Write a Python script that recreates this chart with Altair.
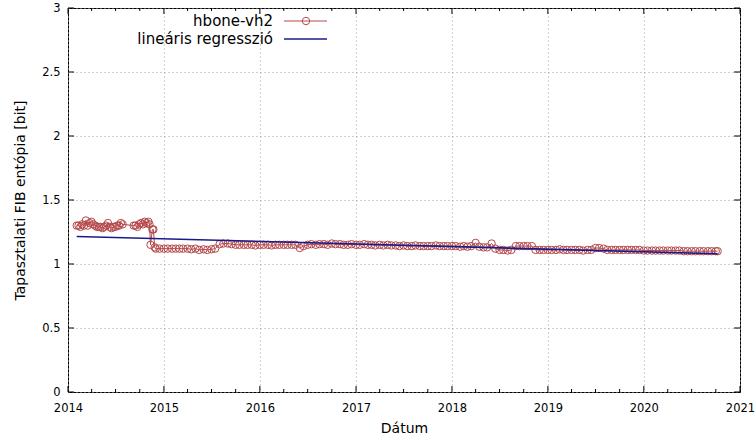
import altair as alt
import pandas as pd

# --- measured series: hbone-vh2 ---
dates = [
    "2014-02-03", "2014-02-10", "2014-02-17", "2014-02-24", "2014-03-03", "2014-03-10",
    "2014-03-17", "2014-03-24", "2014-03-31", "2014-04-07", "2014-04-14", "2014-04-21",
    "2014-04-28", "2014-05-05", "2014-05-12", "2014-05-19", "2014-05-26", "2014-06-02",
    "2014-06-09", "2014-06-16", "2014-06-23", "2014-06-30", "2014-07-07", "2014-07-14",
    "2014-07-21", "2014-07-28", "2014-09-08", "2014-09-15", "2014-09-22", "2014-09-29",
    "2014-10-06", "2014-10-13", "2014-10-20", "2014-10-27", "2014-11-03", "2014-11-07",
    "2014-11-11", "2014-11-18", "2014-11-22", "2014-11-27", "2014-12-01", "2014-12-15",
    "2015-01-01", "2015-01-15", "2015-02-01", "2015-02-15", "2015-03-01", "2015-03-15",
    "2015-04-01", "2015-04-15", "2015-05-01", "2015-05-15", "2015-06-01", "2015-06-15",
    "2015-07-01", "2015-07-15", "2015-08-01", "2015-08-15", "2015-09-01", "2015-09-15",
    "2015-10-01", "2015-10-15", "2015-11-01", "2015-11-15", "2015-12-01", "2015-12-15",
    "2016-01-01", "2016-01-15", "2016-02-01", "2016-02-15", "2016-03-01", "2016-03-15",
    "2016-04-01", "2016-04-15", "2016-05-01", "2016-05-15", "2016-06-01", "2016-06-15",
    "2016-07-01", "2016-07-15", "2016-08-01", "2016-08-15", "2016-09-01", "2016-09-15",
    "2016-10-01", "2016-10-15", "2016-11-01", "2016-11-15", "2016-12-01", "2016-12-15",
    "2017-01-01", "2017-01-15", "2017-02-01", "2017-02-15", "2017-03-01", "2017-03-15",
    "2017-04-01", "2017-04-15", "2017-05-01", "2017-05-15", "2017-06-01", "2017-06-15",
    "2017-07-01", "2017-07-15", "2017-08-01", "2017-08-15", "2017-09-01", "2017-09-15",
    "2017-10-01", "2017-10-15", "2017-11-01", "2017-11-15", "2017-12-01", "2017-12-15",
    "2018-01-01", "2018-01-15", "2018-02-01", "2018-02-15", "2018-03-01", "2018-03-15",
    "2018-04-01", "2018-04-15", "2018-05-01", "2018-05-15", "2018-06-01", "2018-06-15",
    "2018-07-01", "2018-07-15", "2018-08-01", "2018-08-15", "2018-09-01", "2018-09-15",
    "2018-10-01", "2018-10-15", "2018-11-01", "2018-11-15", "2018-12-01", "2018-12-15",
    "2019-01-01", "2019-01-15", "2019-02-01", "2019-02-15", "2019-03-01", "2019-03-15",
    "2019-04-01", "2019-04-15", "2019-05-01", "2019-05-15", "2019-06-01", "2019-06-15",
    "2019-07-01", "2019-07-15", "2019-08-01", "2019-08-15", "2019-09-01", "2019-09-15",
    "2019-10-01", "2019-10-15", "2019-11-01", "2019-11-15", "2019-12-01", "2019-12-15",
    "2020-01-01", "2020-01-15", "2020-02-01", "2020-02-15", "2020-03-01", "2020-03-15",
    "2020-04-01", "2020-04-15", "2020-05-01", "2020-05-15", "2020-06-01", "2020-06-15",
    "2020-07-01", "2020-07-15", "2020-08-01", "2020-08-15", "2020-09-01", "2020-09-15",
    "2020-10-01", "2020-10-08",
]
values = [
    1.30, 1.30, 1.29, 1.31, 1.30, 1.34,
    1.30, 1.32, 1.33, 1.31, 1.30, 1.29,
    1.29, 1.29, 1.28, 1.29, 1.30, 1.32,
    1.29, 1.28, 1.29, 1.29, 1.30, 1.30,
    1.32, 1.31, 1.30, 1.30, 1.29, 1.31,
    1.32, 1.31, 1.33, 1.32, 1.33, 1.31,
    1.15, 1.27, 1.27, 1.13, 1.12, 1.12,
    1.12, 1.12, 1.12, 1.12, 1.12, 1.12,
    1.12, 1.115, 1.12, 1.11, 1.115, 1.11,
    1.115, 1.12, 1.155, 1.16, 1.16, 1.155,
    1.15, 1.15, 1.15, 1.15, 1.15, 1.145,
    1.15, 1.15, 1.15, 1.145, 1.15, 1.15,
    1.15, 1.15, 1.15, 1.15, 1.125, 1.14,
    1.15, 1.155, 1.15, 1.155, 1.155, 1.15,
    1.16, 1.155, 1.155, 1.15, 1.15, 1.155,
    1.15, 1.15, 1.155, 1.15, 1.15, 1.145,
    1.15, 1.145, 1.15, 1.145, 1.145, 1.14,
    1.145, 1.14, 1.14, 1.145, 1.14, 1.14,
    1.14, 1.14, 1.145, 1.14, 1.14, 1.14,
    1.14, 1.14, 1.135, 1.14, 1.135, 1.14,
    1.165, 1.135, 1.13, 1.13, 1.16, 1.12,
    1.11, 1.11, 1.105, 1.11, 1.14, 1.14,
    1.14, 1.14, 1.14, 1.11, 1.11, 1.11,
    1.11, 1.11, 1.11, 1.115, 1.11, 1.11,
    1.11, 1.11, 1.11, 1.105, 1.11, 1.11,
    1.125, 1.125, 1.12, 1.11, 1.11, 1.11,
    1.11, 1.11, 1.11, 1.11, 1.11, 1.11,
    1.105, 1.105, 1.105, 1.105, 1.105, 1.105,
    1.105, 1.105, 1.105, 1.105, 1.10, 1.10,
    1.10, 1.10, 1.10, 1.10, 1.10, 1.10,
    1.10, 1.10,
]

# --- linear regression endpoints ---
reg_dates = ["2014-02-03", "2020-10-08"]
reg_values = [1.215, 1.08]

# --- axes ---
year_ticks = [2014, 2015, 2016, 2017, 2018, 2019, 2020, 2021]
quarter_ticks = [f"{y}-{m:02d}-01" for y in range(2014, 2021) for m in (4, 7, 10)]
y_ticks = [0, 0.5, 1, 1.5, 2, 2.5, 3]

series_label = "hbone-vh2"
reg_label = "lineáris regresszió"

RED = "#b5484a"
BLUE = "#1a1a8c"
W, H = 672, 384
FONT = "DejaVu Sans"

df = pd.DataFrame({"date": dates, "value": values})
reg = pd.DataFrame({"date": reg_dates, "value": reg_values})
years_df = pd.DataFrame({"date": [f"{y}-01-01" for y in year_ticks]})
quarters_df = pd.DataFrame({"date": quarter_ticks})
yt_df = pd.DataFrame({"value": y_ticks})

xscale = alt.Scale(domain=[alt.DateTime(year=2014, month=1, date=1),
                           alt.DateTime(year=2021, month=1, date=1)])
yscale = alt.Scale(domain=[0, 3])

x_enc = alt.X("date:T", scale=xscale,
              axis=alt.Axis(title="Dátum",
                            values=[alt.DateTime(year=y, month=1, date=1) for y in year_ticks],
                            format="%Y", ticks=False, domain=False, labelPadding=10,
                            titlePadding=8, grid=True, labelFlush=False))
y_enc = alt.Y("value:Q", scale=yscale,
              axis=alt.Axis(title="Tapasztalati FIB entópia [bit]", values=y_ticks,
                            format="~g", ticks=False, domain=False, labelPadding=8,
                            titlePadding=14, grid=True))

line = alt.Chart(df).mark_line(color=RED, strokeWidth=1).encode(x=x_enc, y=y_enc)
pts = alt.Chart(df).mark_point(shape="circle", filled=False, color=RED, size=55,
                               strokeWidth=1, opacity=1).encode(x="date:T", y="value:Q")
regl = alt.Chart(reg).mark_line(color=BLUE, strokeWidth=1.6).encode(x="date:T", y="value:Q")

xt_bot = alt.Chart(years_df).mark_rule(color="black").encode(
    x="date:T", y=alt.value(H), y2=alt.value(H - 6))
xt_top = alt.Chart(years_df).mark_rule(color="black").encode(
    x="date:T", y=alt.value(0), y2=alt.value(6))
xq_bot = alt.Chart(quarters_df).mark_rule(color="black").encode(
    x="date:T", y=alt.value(H), y2=alt.value(H - 3))
xq_top = alt.Chart(quarters_df).mark_rule(color="black").encode(
    x="date:T", y=alt.value(0), y2=alt.value(3))
yt_l = alt.Chart(yt_df).mark_rule(color="black").encode(
    y="value:Q", x=alt.value(0), x2=alt.value(6))
yt_r = alt.Chart(yt_df).mark_rule(color="black").encode(
    y="value:Q", x=alt.value(W), x2=alt.value(W - 6))

leg1_df = pd.DataFrame({"label": [series_label]})
leg2_df = pd.DataFrame({"label": [reg_label]})
leg_t1 = alt.Chart(leg1_df).mark_text(align="right", baseline="middle", fontSize=15,
                                      font=FONT, color="black").encode(
    text="label:N", x=alt.value(205), y=alt.value(13))
leg_t2 = alt.Chart(leg2_df).mark_text(align="right", baseline="middle", fontSize=15,
                                      font=FONT, color="black").encode(
    text="label:N", x=alt.value(205), y=alt.value(31))
leg_l1 = alt.Chart(leg1_df).mark_rule(color=RED, strokeWidth=1).encode(
    x=alt.value(216), x2=alt.value(259), y=alt.value(13))
leg_p1 = alt.Chart(leg1_df).mark_point(shape="circle", filled=False, color=RED, size=55,
                                       strokeWidth=1, opacity=1).encode(
    x=alt.value(238), y=alt.value(13))
leg_l2 = alt.Chart(leg2_df).mark_rule(color=BLUE, strokeWidth=1.6).encode(
    x=alt.value(216), x2=alt.value(259), y=alt.value(31))

chart = alt.layer(
    line, pts, regl, xt_bot, xt_top, xq_bot, xq_top, yt_l, yt_r,
    leg_t1, leg_t2, leg_l1, leg_p1, leg_l2,
).properties(
    width=W, height=H,
    autosize=alt.AutoSizeParams(type="none"),
    padding={"left": 68, "top": 8, "right": 15, "bottom": 47},
    background="white",
).configure_view(
    stroke="black", strokeWidth=1
).configure_axis(
    labelFont=FONT, titleFont=FONT, labelFontSize=11.5, titleFontSize=14,
    labelColor="black", titleColor="black", titleFontWeight="normal",
    gridColor="#a0a0a0", gridDash=[1, 3], gridWidth=1,
)

chart.save("out.html", embed_options={"renderer": "svg", "actions": False})
